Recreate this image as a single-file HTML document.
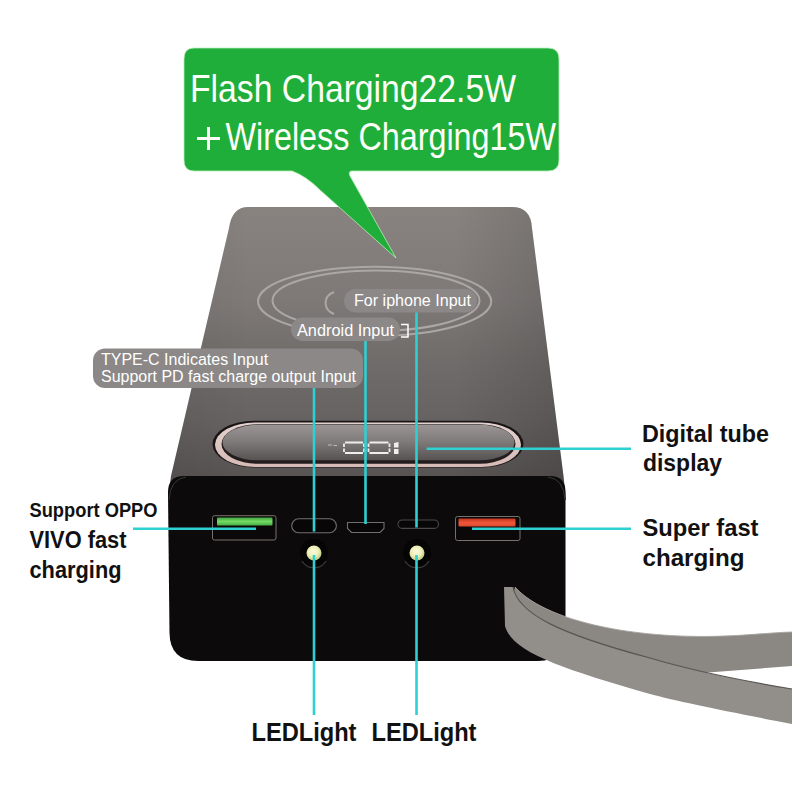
<!DOCTYPE html>
<html><head><meta charset="utf-8">
<style>
html,body{margin:0;padding:0;background:#fff;width:800px;height:800px;overflow:hidden}
svg{display:block}
text{font-family:"Liberation Sans",sans-serif}
</style></head>
<body>
<svg width="800" height="800" viewBox="0 0 800 800">
<defs>
  <linearGradient id="gTop" x1="0" y1="207" x2="0" y2="476" gradientUnits="userSpaceOnUse">
    <stop offset="0" stop-color="#88837f"/>
    <stop offset="0.35" stop-color="#7e7977"/>
    <stop offset="0.55" stop-color="#716d6b"/>
    <stop offset="0.8" stop-color="#666261"/>
    <stop offset="1" stop-color="#585453"/>
  </linearGradient>
  <linearGradient id="gSide" x1="171" y1="0" x2="564" y2="0" gradientUnits="userSpaceOnUse">
    <stop offset="0" stop-color="#000" stop-opacity="0.06"/>
    <stop offset="0.2" stop-color="#000" stop-opacity="0"/>
    <stop offset="0.72" stop-color="#000" stop-opacity="0"/>
    <stop offset="1" stop-color="#000" stop-opacity="0.14"/>
  </linearGradient>
  <linearGradient id="gGreen" x1="0" y1="0" x2="0" y2="1">
    <stop offset="0" stop-color="#3e9e3c"/>
    <stop offset="0.5" stop-color="#74dc66"/>
    <stop offset="1" stop-color="#4aae44"/>
  </linearGradient>
  <linearGradient id="gRed" x1="0" y1="0" x2="0" y2="1">
    <stop offset="0" stop-color="#c43420"/>
    <stop offset="0.55" stop-color="#f2583a"/>
    <stop offset="1" stop-color="#d9482e"/>
  </linearGradient>
  <radialGradient id="gLed" cx="0.45" cy="0.4" r="0.6">
    <stop offset="0" stop-color="#fbfbe0"/>
    <stop offset="0.6" stop-color="#eeeeb4"/>
    <stop offset="1" stop-color="#b8c880"/>
  </radialGradient>
  <linearGradient id="gDisp" x1="0" y1="425" x2="0" y2="460" gradientUnits="userSpaceOnUse">
    <stop offset="0" stop-color="#9a9494"/>
    <stop offset="0.5" stop-color="#7e7979"/>
    <stop offset="1" stop-color="#575353"/>
  </linearGradient>
  <linearGradient id="gRim" x1="0" y1="422" x2="0" y2="467" gradientUnits="userSpaceOnUse">
    <stop offset="0" stop-color="#e2d2cf"/>
    <stop offset="1" stop-color="#d6bab5"/>
  </linearGradient>
</defs>
<rect width="800" height="800" fill="#fff"/>

<!-- body top surface -->
<path d="M248 207 L512 207 Q531 207 532 228 L563.5 476 L566 500 L168 500 L171 476 L229 228 Q232 207 248 207 Z" fill="url(#gTop)"/>
<path d="M248 207 L512 207 Q531 207 532 228 L563.5 476 L566 500 L168 500 L171 476 L229 228 Q232 207 248 207 Z" fill="url(#gSide)"/>

<!-- wireless ellipses -->
<ellipse cx="374.6" cy="301.3" rx="116.6" ry="34.5" fill="none" stroke="#aba7a5" stroke-width="2"/>
<ellipse cx="376" cy="300.6" rx="103.5" ry="30.2" fill="none" stroke="#aba7a5" stroke-width="2"/>
<path d="M334 292 A14 12 0 0 0 334 314" fill="none" stroke="#aba7a5" stroke-width="2"/>

<!-- display -->
<rect x="212.5" y="420.8" width="311" height="46.6" rx="42" ry="23.3" fill="#1a1515"/>
<rect x="215" y="422.5" width="306" height="44.5" rx="40" ry="22.25" fill="url(#gRim)"/>
<rect x="221.5" y="424.3" width="294" height="39.5" rx="36" ry="19.75" fill="#241d1d"/>
<rect x="222.5" y="424.8" width="292" height="35.5" rx="35" ry="17.75" fill="url(#gDisp)"/>
<g fill="none" stroke="#eeeeee" stroke-width="1.8">
  <path d="M345 442.5 L363 442.5 M345 453 L363 453 M344 443.5 L344 447 M344 448.5 L344 452 M364 443.5 L364 447 M364 448.5 L364 452"/>
  <path d="M369.5 442.5 L388.5 442.5 M369.5 453 L388.5 453 M368.5 443.5 L368.5 447 M368.5 448.5 L368.5 452 M389.5 443.5 L389.5 447 M389.5 448.5 L389.5 452"/>
</g>
<g fill="#eeeeee">
  <path d="M394 443 L398.5 442 L398.5 447.5 L394 447.5 Z M394 449 L398.5 449 L398.5 454 L394 454 Z"/>
</g>
<path d="M328 445 L332 445 M333.5 445.5 L337 445.5" stroke="#bdbdbd" stroke-width="1.2"/>

<!-- front face -->
<path d="M184 476 L550 476 Q565.5 476 565.5 492 L565.5 634 Q565.5 661 538 661 L198 661 Q170 661 169.5 633 L168 492 Q168 476 184 476 Z" fill="#0c0a0a"/>
<path d="M169 500 Q170 479 186 477" fill="none" stroke="#3a3737" stroke-width="1"/>
<path d="M565 500 Q564 479 548 477" fill="none" stroke="#3a3737" stroke-width="1"/>

<!-- ports -->
<rect x="212.5" y="515.7" width="63.5" height="24.3" rx="2" fill="#0a0808" stroke="#75706c" stroke-width="1"/>
<rect x="217" y="517.4" width="55.5" height="8" rx="1" fill="url(#gGreen)"/>
<rect x="455.5" y="516.5" width="64.5" height="24" rx="2" fill="#0a0808" stroke="#75706c" stroke-width="1"/>
<rect x="458.5" y="518.5" width="57" height="8" rx="1" fill="url(#gRed)"/>
<rect x="291.7" y="518.8" width="44.7" height="13.9" rx="6.9" fill="#080606" stroke="#707070" stroke-width="1.1"/>
<path d="M347.5 522.5 L384 522.5 L384 528.5 L380 532.5 L351.5 532.5 L347.5 528.5 Z" fill="#080606" stroke="#707070" stroke-width="1.1"/>
<rect x="398" y="520" width="40.5" height="8.4" rx="4.2" fill="#080606" stroke="#4a4a4a" stroke-width="1.1"/>

<!-- LEDs -->
<circle cx="314" cy="553" r="14" fill="#060505"/>
<path d="M302 561 A14 14 0 0 0 326 561" fill="none" stroke="#3a3838" stroke-width="1.4"/>
<circle cx="314" cy="553" r="7.5" fill="url(#gLed)"/>
<circle cx="417" cy="553" r="14" fill="#060505"/>
<path d="M405 561 A14 14 0 0 0 429 561" fill="none" stroke="#3a3838" stroke-width="1.4"/>
<circle cx="417" cy="553" r="7.5" fill="url(#gLed)"/>

<!-- strap -->
<path d="M515 587 C535 610 590 632 680 636 C730 638 760 633 792 632 L792 666 L688 674 C640 672 545 655 508 610 Z" fill="#8b8783"/>
<path d="M504 587 L513 587 C518 614 560 634 650 658 C700 673 750 682 792 689 L792 724 C720 710 680 702 650 694 C560 668 512 652 505 626 Z" fill="#928e8a"/>
<path d="M513 587 C518 614 560 634 650 658 C700 673 750 682 792 689" fill="none" stroke="#5a5552" stroke-width="1.2"/>
<path d="M515 587 C535 610 590 632 680 636 C730 638 760 633 792 632" fill="none" stroke="#a9a5a1" stroke-width="0.9"/>

<!-- green bubble -->
<path d="M194 48 L548 48 Q559 48 559 59 L559 160 Q559 171 548 171 L352 171 Q348 171 350 176 L396 258 L320 190 Q306 176 292 171 L194 171 Q184 171 184 160 L184 59 Q184 48 194 48 Z" fill="#20ae3a" stroke="#b9ecb9" stroke-width="0.8"/>
<g fill="#fbfff8">
<text x="190" y="102" font-size="39" textLength="326" lengthAdjust="spacingAndGlyphs">Flash Charging22.5W</text>
<text x="225.5" y="150" font-size="39" textLength="330.5" lengthAdjust="spacingAndGlyphs">Wireless Charging15W</text>
</g>
<path d="M197 138.5 L220 138.5 M208.5 127 L208.5 150" stroke="#fbfff8" stroke-width="3"/>

<!-- gray labels -->
<rect x="344" y="289" width="133" height="23.5" rx="11.75" fill="#8b8887"/>
<text x="354" y="306" font-size="16" fill="#fff" textLength="117" lengthAdjust="spacingAndGlyphs">For iphone Input</text>
<rect x="291" y="317.5" width="109" height="23.5" rx="11.75" fill="#8b8887"/>
<text x="297" y="335.5" font-size="17" fill="#fff" textLength="97" lengthAdjust="spacingAndGlyphs">Android Input</text>
<path d="M401 324.5 L408 324.5 L408 337 L401 337" fill="none" stroke="#fff" stroke-width="1.5"/>
<rect x="93" y="348.5" width="270" height="39.5" rx="12" fill="#8b8887"/>
<text x="101" y="364.75" font-size="16" fill="#fff">TYPE-C Indicates Input</text>
<text x="101" y="382" font-size="16" fill="#fff" textLength="255" lengthAdjust="spacingAndGlyphs">Support PD fast charge output Input</text>

<!-- cyan lines -->
<g stroke="#2ed0d2" stroke-width="2.6" fill="none">
  <line x1="314" y1="388" x2="314" y2="531.6"/>
  <line x1="365.5" y1="341" x2="365.5" y2="524"/>
  <line x1="416.5" y1="312.5" x2="416.5" y2="527.5"/>
  <line x1="426.5" y1="448.8" x2="631" y2="448.8"/>
  <line x1="133" y1="528.8" x2="256" y2="528.8"/>
  <line x1="472" y1="528.8" x2="631" y2="528.8"/>
  <line x1="314" y1="555" x2="314" y2="715"/>
  <line x1="416.5" y1="555" x2="416.5" y2="715"/>
</g>

<!-- black texts -->
<g font-weight="bold" fill="#111">
  <text x="642" y="441.5" font-size="24" textLength="127" lengthAdjust="spacingAndGlyphs">Digital tube</text>
  <text x="643" y="471.3" font-size="24" textLength="79" lengthAdjust="spacingAndGlyphs">display</text>
  <text x="642.5" y="536" font-size="24" textLength="116" lengthAdjust="spacingAndGlyphs">Super fast</text>
  <text x="642.5" y="566" font-size="24" textLength="102" lengthAdjust="spacingAndGlyphs">charging</text>
  <text x="29.5" y="517.3" font-size="20.5" textLength="128" lengthAdjust="spacingAndGlyphs">Support OPPO</text>
  <text x="29.5" y="547.5" font-size="23.5" textLength="97" lengthAdjust="spacingAndGlyphs">VIVO fast</text>
  <text x="29.5" y="577.5" font-size="23.5" textLength="92" lengthAdjust="spacingAndGlyphs">charging</text>
  <text x="251.5" y="740.6" font-size="25.5" textLength="105" lengthAdjust="spacingAndGlyphs">LEDLight</text>
  <text x="371.5" y="740.6" font-size="25.5" textLength="105" lengthAdjust="spacingAndGlyphs">LEDLight</text>
</g>
</svg>
</body></html>
